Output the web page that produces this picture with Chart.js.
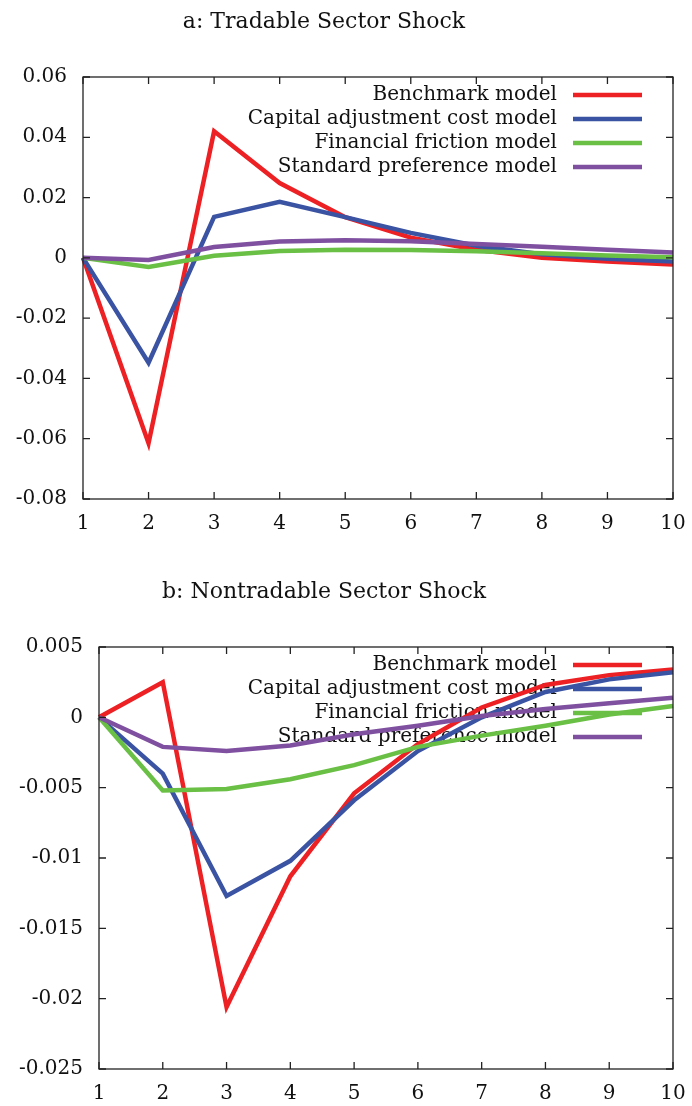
<!DOCTYPE html>
<html><head><meta charset="utf-8">
<script src="https://cdn.jsdelivr.net/npm/chart.js@4.4.1/dist/chart.umd.min.js"></script>
<style>
html,body{margin:0;padding:0;background:#fff;overflow:hidden;}
#w1{position:absolute;left:0;top:0;width:692px;height:556px;}
#w2{position:absolute;left:0;top:556px;width:692px;height:550px;}
</style></head><body>
<div id="w1"><canvas id="c1"></canvas></div>
<div id="w2"><canvas id="c2"></canvas></div>
<script>
const periods = ['1','2','3','4','5','6','7','8','9','10'];
const seriesNames = ['Benchmark model','Capital adjustment cost model','Financial friction model','Standard preference model'];
const seriesColors = ['#ed2024','#3a53a3','#6abf45','#7f4fa0'];

const tradableBenchmark = [0, -0.0615, 0.0420, 0.0248, 0.0135, 0.0067, 0.0027, 0.0000, -0.0012, -0.0022];
const tradableCapital   = [0, -0.0348, 0.0136, 0.0186, 0.0135, 0.0083, 0.0040, 0.0012, -0.0003, -0.0012];
const tradableFriction  = [0, -0.0030, 0.0007, 0.0023, 0.0027, 0.0026, 0.0022, 0.0015, 0.0008, 0.0002];
const tradablePref      = [0, -0.0007, 0.0036, 0.0054, 0.0058, 0.0055, 0.0046, 0.0037, 0.0027, 0.0018];

const nontradBenchmark = [0, 0.0025, -0.0206, -0.0113, -0.0054, -0.0019, 0.0007, 0.0023, 0.0030, 0.0034];
const nontradCapital   = [0, -0.0040, -0.0127, -0.0102, -0.0059, -0.0024, 0.0000, 0.0018, 0.0027, 0.0032];
const nontradFriction  = [0, -0.0052, -0.0051, -0.0044, -0.0034, -0.0021, -0.0013, -0.0006, 0.0002, 0.0008];
const nontradPref      = [0, -0.0021, -0.0024, -0.0020, -0.0012, -0.0006, 0.0001, 0.0006, 0.0010, 0.0014];

const FONT = 'DejaVu Serif';

const framePlugin = {
  id: 'frameTicks',
  afterDatasetsDraw(chart) {
    const {ctx, chartArea: a, scales} = chart;
    ctx.save();
    ctx.strokeStyle = '#222';
    ctx.lineWidth = 1.3;
    ctx.beginPath();
    const L = 7;
    scales.x.ticks.forEach((t, i) => {
      const px = scales.x.getPixelForTick(i);
      ctx.moveTo(px, a.bottom); ctx.lineTo(px, a.bottom - L);
      ctx.moveTo(px, a.top); ctx.lineTo(px, a.top + L);
    });
    scales.y.ticks.forEach((t, i) => {
      const py = scales.y.getPixelForTick(i);
      ctx.moveTo(a.left, py); ctx.lineTo(a.left + L, py);
      ctx.moveTo(a.right, py); ctx.lineTo(a.right - L, py);
    });
    ctx.stroke();
    ctx.strokeRect(a.left, a.top, a.right - a.left, a.bottom - a.top);
    ctx.restore();
  }
};

const legendPlugin = {
  id: 'insideLegend',
  beforeDatasetsDraw(chart) {
    const {ctx, chartArea: a} = chart;
    ctx.save();
    ctx.font = '20px "' + FONT + '"';
    ctx.fillStyle = '#111';
    ctx.textAlign = 'right';
    ctx.textBaseline = 'middle';
    chart.data.datasets.forEach((ds, i) => {
      const y = a.top + 18 + i * 24;
      ctx.fillText(ds.label, a.right - 116, y);
      ctx.strokeStyle = ds.borderColor;
      ctx.lineWidth = 4.5;
      ctx.beginPath();
      ctx.moveTo(a.right - 100, y);
      ctx.lineTo(a.right - 31, y);
      ctx.stroke();
    });
    ctx.restore();
  }
};

const titlePlugin = {
  id: 'figTitle',
  afterDraw(chart) {
    const o = chart.options.plugins.figTitle;
    const ctx = chart.ctx;
    ctx.save();
    ctx.font = '22px "' + FONT + '"';
    ctx.fillStyle = '#111';
    ctx.textAlign = 'center';
    ctx.textBaseline = 'alphabetic';
    ctx.fillText(o.text, o.x, o.baseline);
    ctx.restore();
  }
};

function makeChart(id, values, cfg) {
  const datasets = values.map((v, i) => ({
    label: seriesNames[i],
    data: v,
    borderColor: seriesColors[i],
    backgroundColor: seriesColors[i],
    borderWidth: 4.5,
    pointRadius: 0,
    tension: 0,
    borderJoinStyle: 'miter',
    order: values.length - i
  }));
  return new Chart(document.getElementById(id), {
    type: 'line',
    data: { labels: periods, datasets },
    options: {
      responsive: true,
      maintainAspectRatio: false,
      animation: false,
      layout: { padding: { top: cfg.padTop, right: 19, left: 0, bottom: 0 } },
      plugins: {
        legend: { display: false },
        title: { display: false },
        tooltip: { enabled: false },
        figTitle: { text: cfg.title, x: 324, baseline: cfg.titleBaseline }
      },
      scales: {
        x: {
          type: 'category',
          offset: false,
          grid: { display: false, drawTicks: false },
          border: { display: false },
          ticks: { font: { family: FONT, size: 20 }, color: '#111', padding: 13, maxRotation: 0, autoSkip: false },
          afterFit: s => { s.height = cfg.xHeight; s.paddingLeft = 0; s.paddingRight = 0; }
        },
        y: {
          type: 'linear',
          min: cfg.yMin, max: cfg.yMax,
          grid: { display: false, drawTicks: false },
          border: { display: false },
          ticks: {
            stepSize: cfg.yStep,
            font: { family: FONT, size: 20 }, color: '#111', padding: 16,
            callback: v => String(parseFloat(Number(v).toFixed(4)))
          },
          afterFit: s => { s.width = cfg.yWidth; s.paddingTop = 0; s.paddingBottom = 0; }
        }
      }
    },
    plugins: [legendPlugin, framePlugin, titlePlugin]
  });
}

makeChart('c1', [tradableBenchmark, tradableCapital, tradableFriction, tradablePref], {
  padTop: 77, xHeight: 57, yWidth: 83, yMin: -0.08, yMax: 0.06, yStep: 0.02,
  title: 'a: Tradable Sector Shock', titleBaseline: 28
});
makeChart('c2', [nontradBenchmark, nontradCapital, nontradFriction, nontradPref], {
  padTop: 91, xHeight: 37, yWidth: 99, yMin: -0.025, yMax: 0.005, yStep: 0.005,
  title: 'b: Nontradable Sector Shock', titleBaseline: 42
});
</script>
</body></html>
